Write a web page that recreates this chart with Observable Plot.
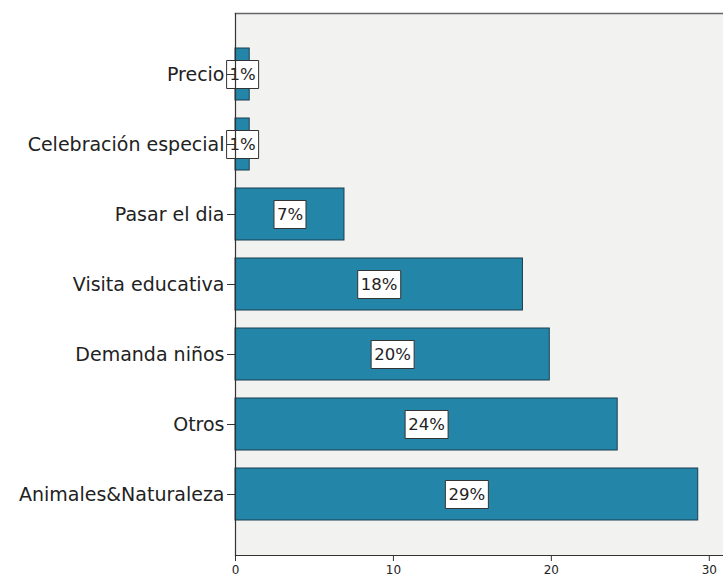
<!DOCTYPE html>
<html>
<head>
<meta charset="utf-8">
<script src="https://cdn.jsdelivr.net/npm/d3@7"></script>
<script src="https://cdn.jsdelivr.net/npm/@observablehq/plot@0.6"></script>
<style>
  html, body { margin: 0; padding: 0; background: #fff; overflow: hidden; }
</style>
</head>
<body>
<div id="chart"></div>
<script>
const categories = ["Precio", "Celebración especial", "Pasar el dia", "Visita educativa", "Demanda niños", "Otros", "Animales&Naturaleza"];
const values = [0.9, 0.9, 6.9, 18.2, 19.9, 24.2, 29.3];
const labels = ["1%", "1%", "7%", "18%", "20%", "24%", "29%"];
const xTicks = [0, 10, 20, 30];

const data = categories.map((c, i) => ({cat: c, value: values[i], label: labels[i]}));

const boxSymbol = (w, h) => ({draw(ctx) { ctx.rect(-w / 2, -h / 2, w, h); }});

const font = "DejaVu Sans, sans-serif";

const chart = Plot.plot({
  width: 723,
  height: 576,
  marginLeft: 235,
  marginRight: 0,
  marginTop: 13,
  marginBottom: 21,
  style: {fontFamily: font, background: "#fff", color: "#222"},
  x: {domain: [0, 30.9]},
  y: {domain: categories, paddingInner: 0.26, paddingOuter: 0.5},
  marks: [
    Plot.frame({fill: "#f2f2f0", stroke: null}),
    Plot.frame({anchor: "top", stroke: "#666", strokeWidth: 1.5}),
    Plot.barX(data, {x: "value", y: "cat", fill: "#2386a9", stroke: "#1d3d4f", strokeWidth: 1}),
    Plot.dot(data.filter(d => d.label.length < 3), {x: d => d.value / 2, y: "cat", symbol: boxSymbol(32, 28), r: 10, fill: "#fff", stroke: "#333", strokeWidth: 1}),
    Plot.dot(data.filter(d => d.label.length >= 3), {x: d => d.value / 2, y: "cat", symbol: boxSymbol(43, 28), r: 10, fill: "#fff", stroke: "#333", strokeWidth: 1}),
    Plot.text(data, {x: d => d.value / 2, y: "cat", text: "label", fontSize: 16.5, fill: "#222"}),
    Plot.axisY({tickSize: 8, tickPadding: 3, fontSize: 19, label: null, stroke: "#333"}),
    Plot.frame({anchor: "left", stroke: "#333", strokeWidth: 1.2}),
    Plot.axisX({ticks: xTicks, tickSize: 6, tickPadding: 4, fontSize: 12, label: null, tickFormat: d => String(d), stroke: "#333"}),
    Plot.frame({anchor: "bottom", stroke: "#333", strokeWidth: 1.2})
  ]
});
document.getElementById("chart").appendChild(chart);
</script>
</body>
</html>
